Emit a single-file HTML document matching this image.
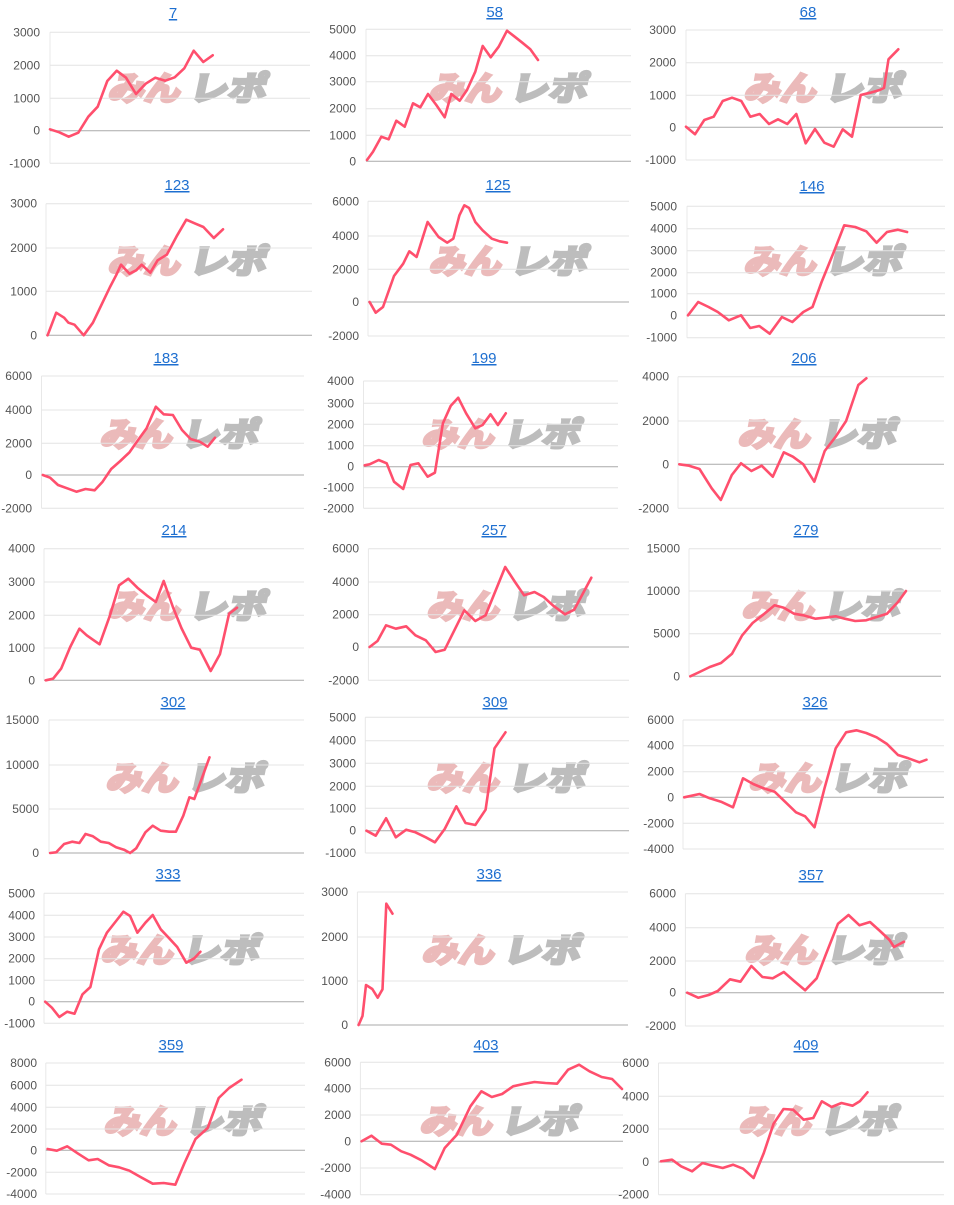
<!DOCTYPE html>
<html><head><meta charset="utf-8"><style>
html,body{margin:0;padding:0;background:#fff;}
svg{display:block;}
.g{stroke:#e4e4e4;stroke-width:1;}
.z{stroke:#aaaaaa;stroke-width:1;}
.ax{stroke:#e8e8e8;stroke-width:1;}
.l{font-family:"Liberation Sans",Arial,sans-serif;font-size:12px;fill:#555;text-anchor:end;}
.t{font-family:"Liberation Sans",Arial,sans-serif;font-size:15px;fill:#1e6fd0;text-anchor:middle;text-decoration:underline;}
.p{fill:none;stroke:#ff4f6d;stroke-width:2.6;stroke-linejoin:round;stroke-linecap:round;}
.w1{font-family:"Noto Sans CJK JP","Liberation Sans",sans-serif;font-size:33px;font-weight:bold;fill:#ebbaba;stroke:#ebbaba;stroke-width:3.2;stroke-linejoin:miter;}
.w2{font-family:"Noto Sans CJK JP","Liberation Sans",sans-serif;font-size:33px;font-weight:bold;fill:#bdbdbd;stroke:#bdbdbd;stroke-width:3.2;stroke-linejoin:miter;}
</style></head><body>
<svg width="954" height="1205" viewBox="0 0 954 1205" xmlns="http://www.w3.org/2000/svg">
<rect width="954" height="1205" fill="#fff"/>

<!-- watermarks -->
<g transform="translate(113,74) skewX(-12)"><text class="w1" x="0" y="26" textLength="72" lengthAdjust="spacingAndGlyphs">みん</text><text class="w2" x="81" y="26" textLength="77" lengthAdjust="spacingAndGlyphs">レポ</text></g>
<g transform="translate(434,74) skewX(-12)"><text class="w1" x="0" y="26" textLength="72" lengthAdjust="spacingAndGlyphs">みん</text><text class="w2" x="81" y="26" textLength="77" lengthAdjust="spacingAndGlyphs">レポ</text></g>
<g transform="translate(749,74) skewX(-12)"><text class="w1" x="0" y="26" textLength="72" lengthAdjust="spacingAndGlyphs">みん</text><text class="w2" x="81" y="26" textLength="77" lengthAdjust="spacingAndGlyphs">レポ</text></g>

<g transform="translate(113,247) skewX(-12)"><text class="w1" x="0" y="26" textLength="72" lengthAdjust="spacingAndGlyphs">みん</text><text class="w2" x="81" y="26" textLength="77" lengthAdjust="spacingAndGlyphs">レポ</text></g>
<g transform="translate(434,247) skewX(-12)"><text class="w1" x="0" y="26" textLength="72" lengthAdjust="spacingAndGlyphs">みん</text><text class="w2" x="81" y="26" textLength="77" lengthAdjust="spacingAndGlyphs">レポ</text></g>
<g transform="translate(749,247) skewX(-12)"><text class="w1" x="0" y="26" textLength="72" lengthAdjust="spacingAndGlyphs">みん</text><text class="w2" x="81" y="26" textLength="77" lengthAdjust="spacingAndGlyphs">レポ</text></g>

<g transform="translate(105,420) skewX(-12)"><text class="w1" x="0" y="26" textLength="72" lengthAdjust="spacingAndGlyphs">みん</text><text class="w2" x="81" y="26" textLength="77" lengthAdjust="spacingAndGlyphs">レポ</text></g>
<g transform="translate(427,420) skewX(-12)"><text class="w1" x="0" y="26" textLength="72" lengthAdjust="spacingAndGlyphs">みん</text><text class="w2" x="81" y="26" textLength="77" lengthAdjust="spacingAndGlyphs">レポ</text></g>
<g transform="translate(743,420) skewX(-12)"><text class="w1" x="0" y="26" textLength="72" lengthAdjust="spacingAndGlyphs">みん</text><text class="w2" x="81" y="26" textLength="77" lengthAdjust="spacingAndGlyphs">レポ</text></g>

<g transform="translate(113,592) skewX(-12)"><text class="w1" x="0" y="26" textLength="72" lengthAdjust="spacingAndGlyphs">みん</text><text class="w2" x="81" y="26" textLength="77" lengthAdjust="spacingAndGlyphs">レポ</text></g>
<g transform="translate(432,592) skewX(-12)"><text class="w1" x="0" y="26" textLength="72" lengthAdjust="spacingAndGlyphs">みん</text><text class="w2" x="81" y="26" textLength="77" lengthAdjust="spacingAndGlyphs">レポ</text></g>
<g transform="translate(747,592) skewX(-12)"><text class="w1" x="0" y="26" textLength="72" lengthAdjust="spacingAndGlyphs">みん</text><text class="w2" x="81" y="26" textLength="77" lengthAdjust="spacingAndGlyphs">レポ</text></g>

<g transform="translate(111,764) skewX(-12)"><text class="w1" x="0" y="26" textLength="72" lengthAdjust="spacingAndGlyphs">みん</text><text class="w2" x="81" y="26" textLength="77" lengthAdjust="spacingAndGlyphs">レポ</text></g>
<g transform="translate(432,764) skewX(-12)"><text class="w1" x="0" y="26" textLength="72" lengthAdjust="spacingAndGlyphs">みん</text><text class="w2" x="81" y="26" textLength="77" lengthAdjust="spacingAndGlyphs">レポ</text></g>
<g transform="translate(754,764) skewX(-12)"><text class="w1" x="0" y="26" textLength="72" lengthAdjust="spacingAndGlyphs">みん</text><text class="w2" x="81" y="26" textLength="77" lengthAdjust="spacingAndGlyphs">レポ</text></g>

<g transform="translate(106,936) skewX(-12)"><text class="w1" x="0" y="26" textLength="72" lengthAdjust="spacingAndGlyphs">みん</text><text class="w2" x="81" y="26" textLength="77" lengthAdjust="spacingAndGlyphs">レポ</text></g>
<g transform="translate(427,936) skewX(-12)"><text class="w1" x="0" y="26" textLength="72" lengthAdjust="spacingAndGlyphs">みん</text><text class="w2" x="81" y="26" textLength="77" lengthAdjust="spacingAndGlyphs">レポ</text></g>
<g transform="translate(750,936) skewX(-12)"><text class="w1" x="0" y="26" textLength="72" lengthAdjust="spacingAndGlyphs">みん</text><text class="w2" x="81" y="26" textLength="77" lengthAdjust="spacingAndGlyphs">レポ</text></g>

<g transform="translate(109,1107) skewX(-12)"><text class="w1" x="0" y="26" textLength="72" lengthAdjust="spacingAndGlyphs">みん</text><text class="w2" x="81" y="26" textLength="77" lengthAdjust="spacingAndGlyphs">レポ</text></g>
<g transform="translate(425,1107) skewX(-12)"><text class="w1" x="0" y="26" textLength="72" lengthAdjust="spacingAndGlyphs">みん</text><text class="w2" x="81" y="26" textLength="77" lengthAdjust="spacingAndGlyphs">レポ</text></g>
<g transform="translate(744,1107) skewX(-12)"><text class="w1" x="0" y="26" textLength="72" lengthAdjust="spacingAndGlyphs">みん</text><text class="w2" x="81" y="26" textLength="77" lengthAdjust="spacingAndGlyphs">レポ</text></g>

<!-- ===== Chart 7 ===== -->
<text class="t" x="173" y="18">7</text>
<line class="ax" x1="50" y1="32.3" x2="50" y2="163.3"/>
<line class="g" x1="50" y1="32.3" x2="310" y2="32.3"/><text class="l" x="40" y="36.3">3000</text>
<line class="g" x1="50" y1="65.3" x2="310" y2="65.3"/><text class="l" x="40" y="69.3">2000</text>
<line class="g" x1="50" y1="98.3" x2="310" y2="98.3"/><text class="l" x="40" y="102.3">1000</text>
<line class="z" x1="50" y1="130.7" x2="310" y2="130.7"/><text class="l" x="40" y="134.7">0</text>
<line class="g" x1="50" y1="163.3" x2="310" y2="163.3"/><text class="l" x="40" y="167.3">-1000</text>
<polyline class="p" points="50,129.3 59.3,132.3 68.7,136.7 78.3,132.7 88.3,116.7 97.7,106.7 107.3,81 116.7,70.7 126,77.7 136,94 145.7,83.7 155.3,77.7 165.3,80.7 174.7,77.3 184.3,68.3 193.7,50.7 203.3,62 212.7,55.3"/>

<!-- ===== Chart 58 ===== -->
<text class="t" x="494.7" y="17">58</text>
<line class="ax" x1="366" y1="29.3" x2="366" y2="161.3"/>
<line class="g" x1="366" y1="29.3" x2="631" y2="29.3"/><text class="l" x="356" y="33.3">5000</text>
<line class="g" x1="366" y1="55.7" x2="631" y2="55.7"/><text class="l" x="356" y="59.7">4000</text>
<line class="g" x1="366" y1="81.7" x2="631" y2="81.7"/><text class="l" x="356" y="85.7">3000</text>
<line class="g" x1="366" y1="108.7" x2="631" y2="108.7"/><text class="l" x="356" y="112.7">2000</text>
<line class="g" x1="366" y1="135.3" x2="631" y2="135.3"/><text class="l" x="356" y="139.3">1000</text>
<line class="z" x1="366" y1="161.3" x2="631" y2="161.3"/><text class="l" x="356" y="165.3">0</text>
<polyline class="p" points="367,160 373,151.7 381.3,136.7 388.7,139.3 396.3,120.7 404.7,126.7 413,103.3 420.3,107.3 428,94 436.3,105 444.7,117.3 451.3,94 459.7,100.7 467,90 475.3,71.7 482.7,46 490.7,57.3 498.7,46.7 507,30.7 514.7,36.7 522.3,42.7 530.3,49.3 538,60"/>

<!-- ===== Chart 68 ===== -->
<text class="t" x="808" y="17">68</text>
<line class="ax" x1="686" y1="30" x2="686" y2="160"/>
<line class="g" x1="686" y1="30" x2="943" y2="30"/><text class="l" x="676" y="34">3000</text>
<line class="g" x1="686" y1="62.7" x2="943" y2="62.7"/><text class="l" x="676" y="66.7">2000</text>
<line class="g" x1="686" y1="95.3" x2="943" y2="95.3"/><text class="l" x="676" y="99.3">1000</text>
<line class="z" x1="686" y1="127.3" x2="943" y2="127.3"/><text class="l" x="676" y="131.3">0</text>
<line class="g" x1="686" y1="160" x2="943" y2="160"/><text class="l" x="676" y="164">-1000</text>
<polyline class="p" points="686,126.7 695,134.3 704.3,120 713.7,116.7 722.7,101 732,97.7 741.3,101 750.3,116.7 759.7,114 769,124 778,119.3 787.3,124 796.3,114 805.7,143.3 815,129 824.3,142.7 833.7,146.7 842.7,129.3 852,136.7 860.7,95 870.3,92.7 879.7,90 884,88 888.5,59.3 898.3,49.3"/>

<!-- ===== Chart 123 ===== -->
<text class="t" x="177" y="190">123</text>
<line class="ax" x1="46" y1="203.7" x2="46" y2="335.3"/>
<line class="g" x1="46" y1="203.7" x2="312" y2="203.7"/><text class="l" x="37" y="207.7">3000</text>
<line class="g" x1="46" y1="248" x2="312" y2="248"/><text class="l" x="37" y="252">2000</text>
<line class="g" x1="46" y1="291.3" x2="312" y2="291.3"/><text class="l" x="37" y="295.3">1000</text>
<line class="z" x1="46" y1="335.3" x2="312" y2="335.3"/><text class="l" x="37" y="339.3">0</text>
<polyline class="p" points="47.6,335.3 56.2,312.7 64.1,317.7 68.4,322.7 74.5,324.7 83.7,335.3 92.9,322.7 102,303.7 110,287 116.1,275.3 121,264.7 129.5,273.7 136.2,270.3 141.7,264.7 150.3,272.7 157.6,260.3 166.8,254.7 177.2,235.3 186.3,219.7 195.5,223.7 203.4,227 213.8,238 223,229.3"/>

<!-- ===== Chart 125 ===== -->
<text class="t" x="498" y="190">125</text>
<line class="ax" x1="368" y1="201.3" x2="368" y2="336"/>
<line class="g" x1="368" y1="201.3" x2="629" y2="201.3"/><text class="l" x="359" y="205.3">6000</text>
<line class="g" x1="368" y1="236" x2="629" y2="236"/><text class="l" x="359" y="240">4000</text>
<line class="g" x1="368" y1="269.3" x2="629" y2="269.3"/><text class="l" x="359" y="273.3">2000</text>
<line class="z" x1="368" y1="302" x2="629" y2="302"/><text class="l" x="359" y="306">0</text>
<line class="g" x1="368" y1="336" x2="629" y2="336"/><text class="l" x="359" y="340">-2000</text>
<polyline class="p" points="369.6,302 375.7,312.7 383,307 394,276 403.2,263.7 409.3,251.3 416.6,257 427.6,222 438.6,237 447.2,242.7 453.3,238.7 459.4,215.3 464.3,205.3 469.1,208 475.3,222 482.6,230.3 491.8,238.7 499.7,241.3 507,242.7"/>

<!-- ===== Chart 146 ===== -->
<text class="t" x="812" y="191">146</text>
<line class="ax" x1="687" y1="206.3" x2="687" y2="337.7"/>
<line class="g" x1="687" y1="206.3" x2="945" y2="206.3"/><text class="l" x="677" y="210.3">5000</text>
<line class="g" x1="687" y1="228.7" x2="945" y2="228.7"/><text class="l" x="677" y="232.7">4000</text>
<line class="g" x1="687" y1="250.7" x2="945" y2="250.7"/><text class="l" x="677" y="254.7">3000</text>
<line class="g" x1="687" y1="272.7" x2="945" y2="272.7"/><text class="l" x="677" y="276.7">2000</text>
<line class="g" x1="687" y1="293.7" x2="945" y2="293.7"/><text class="l" x="677" y="297.7">1000</text>
<line class="z" x1="687" y1="315.3" x2="945" y2="315.3"/><text class="l" x="677" y="319.3">0</text>
<line class="g" x1="687" y1="337.7" x2="945" y2="337.7"/><text class="l" x="677" y="341.7">-1000</text>
<polyline class="p" points="688,315.3 698.2,302 708.6,307 717.8,312 728.8,320.3 741,315.3 750.2,328 759.3,326 769.7,333.7 781.9,317 792.3,322 803.3,312 812.5,307 821.6,282 833.8,252 844.2,225.3 855.2,227 866.2,231.3 876.6,242.7 887,232 898,229.7 907.1,232"/>

<!-- ===== Chart 183 ===== -->
<text class="t" x="166" y="363">183</text>
<line class="ax" x1="41.5" y1="376" x2="41.5" y2="508.3"/>
<line class="g" x1="41.5" y1="376" x2="304" y2="376"/><text class="l" x="32" y="380">6000</text>
<line class="g" x1="41.5" y1="410" x2="304" y2="410"/><text class="l" x="32" y="414">4000</text>
<line class="g" x1="41.5" y1="443.3" x2="304" y2="443.3"/><text class="l" x="32" y="447.3">2000</text>
<line class="z" x1="41.5" y1="475" x2="304" y2="475"/><text class="l" x="32" y="479">0</text>
<line class="g" x1="41.5" y1="508.3" x2="304" y2="508.3"/><text class="l" x="32" y="512.3">-2000</text>
<polyline class="p" points="42.8,475 50.1,477.7 58,485 67.2,488.3 76.4,491.7 85.5,489 94.7,490.3 102.6,481.7 111.2,469 120.3,461 129.5,452.3 138.1,440 146.6,428.3 155.8,406.7 163.7,414.3 172.9,415 182,430 190.6,439 199.8,441.7 207.7,446.7 215,437.7"/>

<!-- ===== Chart 199 ===== -->
<text class="t" x="484" y="363">199</text>
<line class="ax" x1="363.5" y1="381" x2="363.5" y2="508.3"/>
<line class="g" x1="363.5" y1="381" x2="618" y2="381"/><text class="l" x="354" y="385">4000</text>
<line class="g" x1="363.5" y1="403.3" x2="618" y2="403.3"/><text class="l" x="354" y="407.3">3000</text>
<line class="g" x1="363.5" y1="424.3" x2="618" y2="424.3"/><text class="l" x="354" y="428.3">2000</text>
<line class="g" x1="363.5" y1="445.7" x2="618" y2="445.7"/><text class="l" x="354" y="449.7">1000</text>
<line class="z" x1="363.5" y1="466.7" x2="618" y2="466.7"/><text class="l" x="354" y="470.7">0</text>
<line class="g" x1="363.5" y1="487.7" x2="618" y2="487.7"/><text class="l" x="354" y="491.7">-1000</text>
<line class="g" x1="363.5" y1="508.3" x2="618" y2="508.3"/><text class="l" x="354" y="512.3">-2000</text>
<polyline class="p" points="364.7,465.3 369.6,464.3 378.7,460 386.7,463.3 394,481.7 403.2,489 410.5,465 418.4,463.3 427.6,476.7 434.9,472.7 442.9,423.3 450.8,405.7 458.2,397.7 466.1,413.3 475.3,428.3 482.6,425 490.5,414.3 497.9,425 505.8,413.3"/>

<!-- ===== Chart 206 ===== -->
<text class="t" x="804" y="363">206</text>
<line class="ax" x1="678" y1="376.7" x2="678" y2="508.3"/>
<line class="g" x1="678" y1="376.7" x2="944" y2="376.7"/><text class="l" x="669" y="380.7">4000</text>
<line class="g" x1="678" y1="421" x2="944" y2="421"/><text class="l" x="669" y="425">2000</text>
<line class="z" x1="678" y1="464.3" x2="944" y2="464.3"/><text class="l" x="669" y="468.3">0</text>
<line class="g" x1="678" y1="508.3" x2="944" y2="508.3"/><text class="l" x="669" y="512.3">-2000</text>
<polyline class="p" points="679.3,464.3 689.1,465.7 699.5,469 711.7,488.3 720.8,500 731.8,475 741,463.3 751.4,471 761.7,465.7 772.8,476.7 783.8,452.3 792.9,456.7 803.3,464.3 814.3,481.7 824.7,451 835.7,436.7 846.1,421 858.3,385 866.4,378.3"/>

<!-- ===== Chart 214 ===== -->
<text class="t" x="174" y="535">214</text>
<line class="ax" x1="44" y1="548.7" x2="44" y2="680.3"/>
<line class="g" x1="44" y1="548.7" x2="304" y2="548.7"/><text class="l" x="35" y="552.7">4000</text>
<line class="g" x1="44" y1="582" x2="304" y2="582"/><text class="l" x="35" y="586">3000</text>
<line class="g" x1="44" y1="615.3" x2="304" y2="615.3"/><text class="l" x="35" y="619.3">2000</text>
<line class="g" x1="44" y1="648" x2="304" y2="648"/><text class="l" x="35" y="652">1000</text>
<line class="z" x1="44" y1="680.3" x2="304" y2="680.3"/><text class="l" x="35" y="684.3">0</text>
<polyline class="p" points="45.8,680.3 53.1,678.7 61.1,668.7 70.2,647 79.4,628.7 86.7,635.3 92.9,639.7 99.6,644.3 110,615.3 119.1,585.3 128.3,578.7 137.4,587.7 146.6,595.3 155.8,602 163.7,581 172.9,607 181.4,628 191.2,647.7 199.8,649.7 210.7,671 219.9,654.3 229.1,613.7 237,607.7"/>

<!-- ===== Chart 257 ===== -->
<text class="t" x="494" y="535">257</text>
<line class="ax" x1="368.4" y1="548.7" x2="368.4" y2="680.3"/>
<line class="g" x1="368.4" y1="548.7" x2="629" y2="548.7"/><text class="l" x="359" y="552.7">6000</text>
<line class="g" x1="368.4" y1="582" x2="629" y2="582"/><text class="l" x="359" y="586">4000</text>
<line class="g" x1="368.4" y1="614.7" x2="629" y2="614.7"/><text class="l" x="359" y="618.7">2000</text>
<line class="z" x1="368.4" y1="647" x2="629" y2="647"/><text class="l" x="359" y="651">0</text>
<line class="g" x1="368.4" y1="680.3" x2="629" y2="680.3"/><text class="l" x="359" y="684.3">-2000</text>
<polyline class="p" points="369.6,647 377.5,641 386.1,625.3 395.8,628.7 406.2,626.3 415.4,635.3 425.8,640.3 435.6,652 444.7,649.7 464.3,610.3 475.3,621 485.6,615.3 505.2,567 515,582 524.1,595.3 534.5,592 543.7,597 552.8,605.3 565,614.3 574.2,609.7 591.3,577.7"/>

<!-- ===== Chart 279 ===== -->
<text class="t" x="806" y="535">279</text>
<line class="ax" x1="689" y1="548.7" x2="689" y2="676.3"/>
<line class="g" x1="689" y1="548.7" x2="941" y2="548.7"/><text class="l" x="680" y="552.7">15000</text>
<line class="g" x1="689" y1="591" x2="941" y2="591"/><text class="l" x="680" y="595">10000</text>
<line class="g" x1="689" y1="633.7" x2="941" y2="633.7"/><text class="l" x="680" y="637.7">5000</text>
<line class="z" x1="689" y1="676.3" x2="941" y2="676.3"/><text class="l" x="680" y="680.3">0</text>
<polyline class="p" points="690.3,676.3 699.5,672 709.8,667 721,663 732,653.7 742.2,635.3 752.6,623 762.4,615.3 774.6,605.3 783.8,607.7 794.1,613.7 803.3,615.3 815.5,618.7 824.7,617.7 835.7,616.3 844.8,618.7 855.2,621 866.2,620.3 876.6,617 887,613.7 898,602 906,591"/>

<!-- ===== Chart 302 ===== -->
<text class="t" x="173" y="707">302</text>
<line class="ax" x1="49" y1="720" x2="49" y2="853"/>
<line class="g" x1="49" y1="720" x2="304" y2="720"/><text class="l" x="39" y="724">15000</text>
<line class="g" x1="49" y1="765" x2="304" y2="765"/><text class="l" x="39" y="769">10000</text>
<line class="g" x1="49" y1="809" x2="304" y2="809"/><text class="l" x="39" y="813">5000</text>
<line class="z" x1="49" y1="853" x2="304" y2="853"/><text class="l" x="39" y="857">0</text>
<polyline class="p" points="50.1,853 56.2,852.3 64.1,844 72.1,841.7 79.4,843 85.5,834 92.9,836.3 100.8,841.7 108.7,843 116.1,847.3 124,849.7 130.1,853 136.2,848.3 145.4,832.3 152.7,825.7 160.7,830.7 169.2,831.7 175.9,831.7 183.3,815.7 189.4,797.3 194.3,799 209.5,757.3"/>

<!-- ===== Chart 309 ===== -->
<text class="t" x="495" y="707">309</text>
<line class="ax" x1="365.3" y1="717.3" x2="365.3" y2="853"/>
<line class="g" x1="365.3" y1="717.3" x2="629" y2="717.3"/><text class="l" x="356" y="721.3">5000</text>
<line class="g" x1="365.3" y1="740.7" x2="629" y2="740.7"/><text class="l" x="356" y="744.7">4000</text>
<line class="g" x1="365.3" y1="763.3" x2="629" y2="763.3"/><text class="l" x="356" y="767.3">3000</text>
<line class="g" x1="365.3" y1="786.3" x2="629" y2="786.3"/><text class="l" x="356" y="790.3">2000</text>
<line class="g" x1="365.3" y1="808.3" x2="629" y2="808.3"/><text class="l" x="356" y="812.3">1000</text>
<line class="z" x1="365.3" y1="830.7" x2="629" y2="830.7"/><text class="l" x="356" y="834.7">0</text>
<line class="g" x1="365.3" y1="853" x2="629" y2="853"/><text class="l" x="356" y="857">-1000</text>
<polyline class="p" points="366.5,830.7 375.7,835.7 386.1,818.3 395.8,837.3 406.2,829.7 415.4,832.3 425.8,837.3 434.9,842.3 444.7,829 456.3,806.3 465.5,823 475.3,825 485.6,809.7 494.5,748.3 505.5,732.3"/>

<!-- ===== Chart 326 ===== -->
<text class="t" x="815" y="707">326</text>
<line class="ax" x1="683" y1="720" x2="683" y2="849"/>
<line class="g" x1="683" y1="720" x2="944" y2="720"/><text class="l" x="674" y="724">6000</text>
<line class="g" x1="683" y1="745.7" x2="944" y2="745.7"/><text class="l" x="674" y="749.7">4000</text>
<line class="g" x1="683" y1="771.7" x2="944" y2="771.7"/><text class="l" x="674" y="775.7">2000</text>
<line class="z" x1="683" y1="797.3" x2="944" y2="797.3"/><text class="l" x="674" y="801.3">0</text>
<line class="g" x1="683" y1="823.3" x2="944" y2="823.3"/><text class="l" x="674" y="827.3">-2000</text>
<line class="g" x1="683" y1="849" x2="944" y2="849"/><text class="l" x="674" y="853">-4000</text>
<polyline class="p" points="684.2,797.3 699.5,794 709.8,798.3 721,801.7 733,807.3 743,778.3 753.2,784 763.6,788.3 774.6,791.7 785,801.7 796,812.3 805.1,816.3 814.5,827.3 824.5,788.3 835.7,748.3 846.1,732.3 856.4,730.3 866.2,733 876.6,737.3 887,744 898,755 908.4,758.3 919.4,762.3 926.5,759.7"/>

<!-- ===== Chart 333 ===== -->
<text class="t" x="168" y="879">333</text>
<line class="ax" x1="44" y1="893.3" x2="44" y2="1023.3"/>
<line class="g" x1="44" y1="893.3" x2="304" y2="893.3"/><text class="l" x="35" y="897.3">5000</text>
<line class="g" x1="44" y1="915.3" x2="304" y2="915.3"/><text class="l" x="35" y="919.3">4000</text>
<line class="g" x1="44" y1="937" x2="304" y2="937"/><text class="l" x="35" y="941">3000</text>
<line class="g" x1="44" y1="958.7" x2="304" y2="958.7"/><text class="l" x="35" y="962.7">2000</text>
<line class="g" x1="44" y1="980.3" x2="304" y2="980.3"/><text class="l" x="35" y="984.3">1000</text>
<line class="z" x1="44" y1="1001.7" x2="304" y2="1001.7"/><text class="l" x="35" y="1005.7">0</text>
<line class="g" x1="44" y1="1023.3" x2="304" y2="1023.3"/><text class="l" x="35" y="1027.3">-1000</text>
<polyline class="p" points="45.2,1001.7 51.9,1007.7 59.3,1017 67.2,1011.7 74.5,1013.7 82.5,994.3 90.4,987 99,949.3 106.9,932.7 116.1,921 123.4,911.7 130.1,916 137.4,932.7 145.4,922.7 152.7,915 160.7,929.3 169.2,938.3 177.2,947 186.3,962.7 194.3,958.3 200.4,951.7"/>

<!-- ===== Chart 336 ===== -->
<text class="t" x="489" y="879">336</text>
<line class="ax" x1="357.4" y1="892" x2="357.4" y2="1025"/>
<line class="g" x1="357.4" y1="892" x2="628" y2="892"/><text class="l" x="348" y="896">3000</text>
<line class="g" x1="357.4" y1="937" x2="628" y2="937"/><text class="l" x="348" y="941">2000</text>
<line class="g" x1="357.4" y1="981" x2="628" y2="981"/><text class="l" x="348" y="985">1000</text>
<line class="z" x1="357.4" y1="1025" x2="628" y2="1025"/><text class="l" x="348" y="1029">0</text>
<polyline class="p" points="358.6,1025 362.5,1016 366,985 372.3,989 377.7,997.7 382.5,989.3 386.3,903.7 392.5,913.7"/>

<!-- ===== Chart 357 ===== -->
<text class="t" x="811" y="880">357</text>
<line class="ax" x1="685.4" y1="893.7" x2="685.4" y2="1026"/>
<line class="g" x1="685.4" y1="893.7" x2="944" y2="893.7"/><text class="l" x="676" y="897.7">6000</text>
<line class="g" x1="685.4" y1="927.7" x2="944" y2="927.7"/><text class="l" x="676" y="931.7">4000</text>
<line class="g" x1="685.4" y1="961" x2="944" y2="961"/><text class="l" x="676" y="965">2000</text>
<line class="z" x1="685.4" y1="992.7" x2="944" y2="992.7"/><text class="l" x="676" y="996.7">0</text>
<line class="g" x1="685.4" y1="1026" x2="944" y2="1026"/><text class="l" x="676" y="1030">-2000</text>
<polyline class="p" points="687.2,992.7 698.2,997.7 708.6,995 717.8,991 730,979.3 740.4,981.7 751.4,966 762.4,977 772.8,978.3 783.8,972 794.1,981 805.1,990.3 816.7,978.3 825.9,954.3 838,923.7 848.5,915 859.5,925.3 870,922 880,931 889.5,940 894,947 904,941.7"/>

<!-- ===== Chart 359 ===== -->
<text class="t" x="171" y="1050">359</text>
<line class="ax" x1="45.8" y1="1063" x2="45.8" y2="1194"/>
<line class="g" x1="45.8" y1="1063" x2="305" y2="1063"/><text class="l" x="37" y="1067">8000</text>
<line class="g" x1="45.8" y1="1085.3" x2="305" y2="1085.3"/><text class="l" x="37" y="1089.3">6000</text>
<line class="g" x1="45.8" y1="1107.3" x2="305" y2="1107.3"/><text class="l" x="37" y="1111.3">4000</text>
<line class="g" x1="45.8" y1="1129" x2="305" y2="1129"/><text class="l" x="37" y="1133">2000</text>
<line class="z" x1="45.8" y1="1150.3" x2="305" y2="1150.3"/><text class="l" x="37" y="1154.3">0</text>
<line class="g" x1="45.8" y1="1172.3" x2="305" y2="1172.3"/><text class="l" x="37" y="1176.3">-2000</text>
<line class="g" x1="45.8" y1="1194" x2="305" y2="1194"/><text class="l" x="37" y="1198">-4000</text>
<polyline class="p" points="47.6,1149 56.8,1150.7 67.2,1146.3 78.2,1153.7 88.6,1160.3 97.7,1159 108.7,1165.3 119.1,1167.3 129.5,1170.7 140.5,1177 152.7,1183.7 163.7,1183 175.3,1184.7 184.5,1163 195.5,1139 207.7,1128 218.7,1098 229.1,1088 241.5,1079.7"/>

<!-- ===== Chart 403 ===== -->
<text class="t" x="486" y="1050">403</text>
<line class="ax" x1="360.4" y1="1062.3" x2="360.4" y2="1194.7"/>
<line class="g" x1="360.4" y1="1062.3" x2="623" y2="1062.3"/><text class="l" x="351" y="1066.3">6000</text>
<line class="g" x1="360.4" y1="1088.7" x2="623" y2="1088.7"/><text class="l" x="351" y="1092.7">4000</text>
<line class="g" x1="360.4" y1="1115" x2="623" y2="1115"/><text class="l" x="351" y="1119">2000</text>
<line class="z" x1="360.4" y1="1141.3" x2="623" y2="1141.3"/><text class="l" x="351" y="1145.3">0</text>
<line class="g" x1="360.4" y1="1168" x2="623" y2="1168"/><text class="l" x="351" y="1172">-2000</text>
<line class="g" x1="360.4" y1="1194.7" x2="623" y2="1194.7"/><text class="l" x="351" y="1198.7">-4000</text>
<polyline class="p" points="361.6,1141.3 371.4,1135.7 381.8,1143.7 390.9,1144.7 401.3,1151.3 410.5,1154.7 421.5,1160.3 434.9,1169 444.7,1148 456.9,1134.7 470.4,1106.3 481.4,1091.3 491.8,1097 502.1,1094 513.1,1086.3 523.5,1084 534.5,1082 545.5,1083 557.1,1083.7 568.1,1069.7 579.1,1064.7 589.5,1071.3 601.7,1077 612.1,1079 622,1089"/>

<!-- ===== Chart 409 ===== -->
<text class="t" x="806" y="1050">409</text>
<line class="ax" x1="658.5" y1="1063" x2="658.5" y2="1194.7"/>
<line class="g" x1="658.5" y1="1063" x2="944" y2="1063"/><text class="l" x="649" y="1067">6000</text>
<line class="g" x1="658.5" y1="1096.3" x2="944" y2="1096.3"/><text class="l" x="649" y="1100.3">4000</text>
<line class="g" x1="658.5" y1="1129" x2="944" y2="1129"/><text class="l" x="649" y="1133">2000</text>
<line class="z" x1="658.5" y1="1162" x2="944" y2="1162"/><text class="l" x="649" y="1166">0</text>
<line class="g" x1="658.5" y1="1194.7" x2="944" y2="1194.7"/><text class="l" x="649" y="1198.7">-2000</text>
<polyline class="p" points="661,1161.3 672,1159.7 681.1,1166.3 692.1,1171.3 702.5,1163 712.9,1165.7 722.7,1168 733,1164.7 743.1,1168.7 753.6,1178 763.8,1153 773.6,1123.7 783.5,1109 793.1,1109.7 803.6,1119.7 813.3,1118 821.8,1101.3 831.6,1107 841.5,1103 852.5,1105.7 859.8,1101.3 867.5,1092.3"/>

</svg>
</body></html>
